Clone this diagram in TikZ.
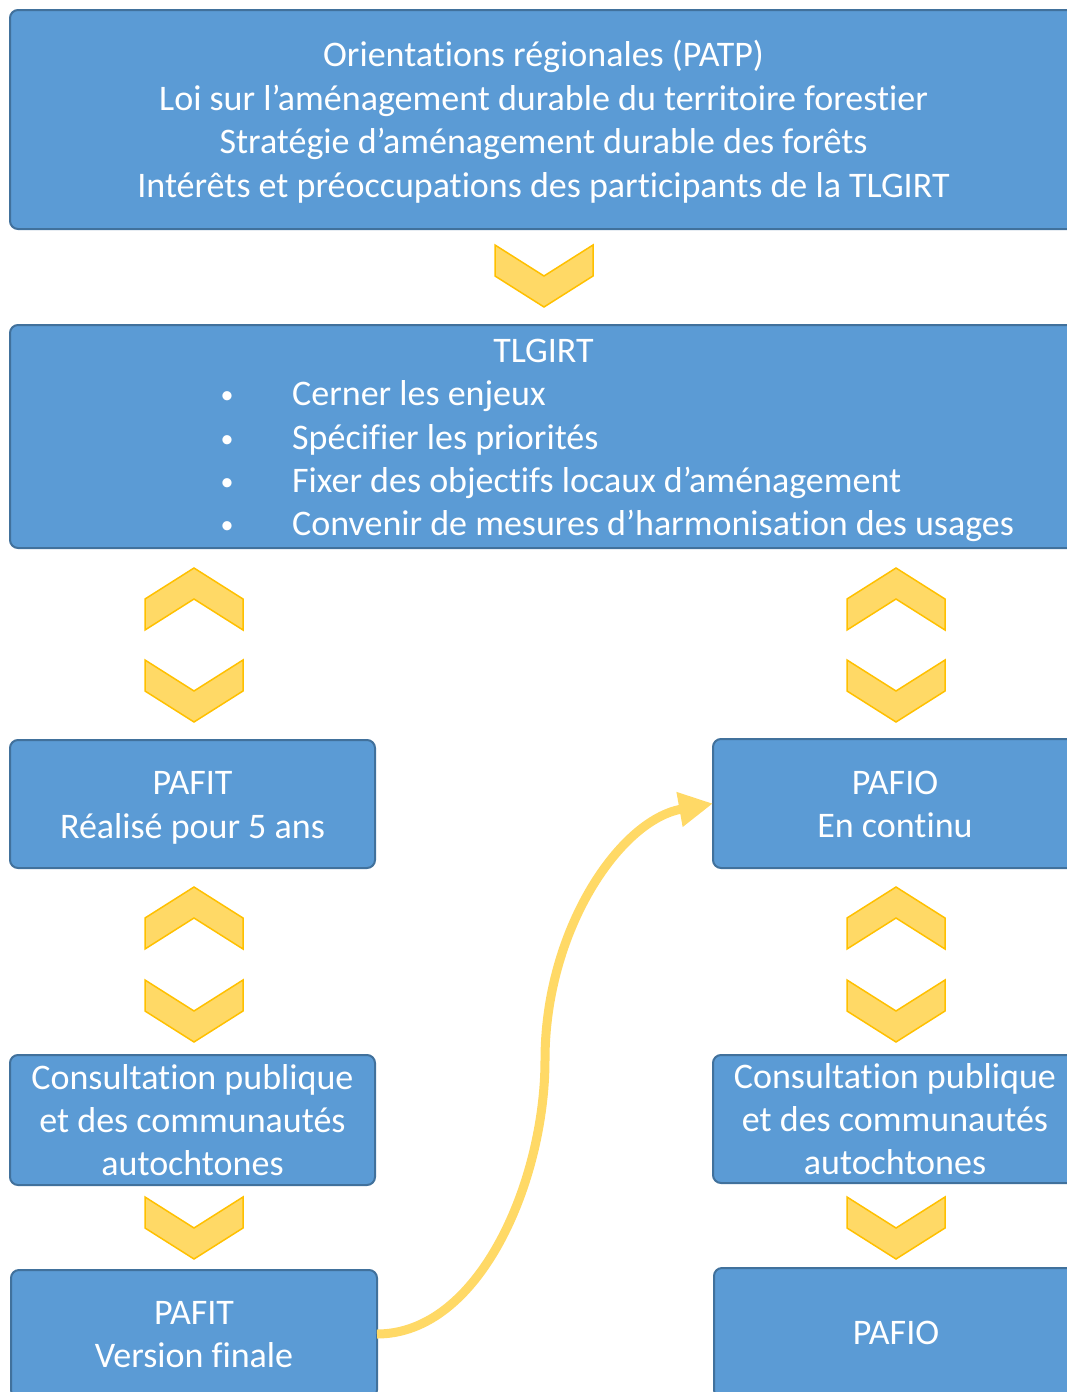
\documentclass[tikz,border=0pt]{standalone}
\usepackage{fontspec}
\setmainfont{Carlito}[Ligatures={NoCommon}]
\usetikzlibrary{arrows.meta}
\definecolor{boxfill}{HTML}{5B9BD5}
\definecolor{boxline}{HTML}{41719C}
\definecolor{chevfill}{HTML}{FFD966}
\definecolor{chevline}{HTML}{FFC000}
\tikzset{
  box/.style={draw=boxline, fill=boxfill, line width=2pt, rounded corners=8pt, inner sep=0pt, outer sep=0pt},
  txt/.style={text=white, inner sep=0pt, font=\fontsize{36}{43.5}\selectfont},
  bul/.style={text=white, inner sep=0pt, font=\fontsize{26}{30}\selectfont},
  chev/.style={draw=chevline, fill=chevfill, line width=1.5pt, line join=miter},
  conn/.style={draw=chevfill, line width=9pt, -{Triangle[length=34pt,width=33pt]}},
  chevdown/.pic={\path[chev] (-49,0) -- (0,31) -- (49,0) -- (49,31) -- (0,62) -- (-49,31) -- cycle;},
  chevup/.pic={\path[chev] (-49,31) -- (0,0) -- (49,31) -- (49,62) -- (0,31) -- (-49,62) -- cycle;}
}
\begin{document}
\begin{tikzpicture}[x=1pt,y=-1pt]
\useasboundingbox (0,0) rectangle (1067,1392);
\clip (0,0) rectangle (1067,1392);
% boxes
\node[box, minimum width=1067pt, minimum height=219pt] (top) at (543.5,119.5) {};
\node[box, minimum width=1067pt, minimum height=223pt] (tl) at (543.5,436.5) {};
\node[box, minimum width=365pt, minimum height=128pt] (pafit) at (192.5,804) {};
\node[box, minimum width=364pt, minimum height=129pt] (pafio) at (895,803.5) {};
\node[box, minimum width=365pt, minimum height=130pt] (consL) at (192.5,1120) {};
\node[box, minimum width=364pt, minimum height=128pt] (consR) at (895,1119) {};
\node[box, minimum width=366pt, minimum height=128pt] (finL) at (194,1334) {};
\node[box, minimum width=364pt, minimum height=130pt] (finR) at (896,1333) {};
% top texts
\node[txt, anchor=base] (t1) at (543.5,66) {Orientations régionales (PATP)};
\node[txt, anchor=base] (t2) at (543.5,110) {Loi sur l’aménagement durable du territoire forestier};
\node[txt, anchor=base] (t3) at (543.5,153) {Stratégie d’aménagement durable des forêts};
\node[txt, anchor=base] (t4) at (543.5,197) {Intérêts et préoccupations des participants de la TLGIRT};
% TLGIRT texts
\node[txt, anchor=base] (g0) at (543.5,362) {TLGIRT};
\node[bul, anchor=base] (b1) at (227,403) {•};
\node[bul, anchor=base] (b2) at (227,447) {•};
\node[bul, anchor=base] (b3) at (227,490) {•};
\node[bul, anchor=base] (b4) at (227,533) {•};
\node[txt, anchor=base west] (g1) at (292,405) {Cerner les enjeux};
\node[txt, anchor=base west] (g2) at (292,449) {Spécifier les priorités};
\node[txt, anchor=base west] (g3) at (292,492) {Fixer des objectifs locaux d’aménagement};
\node[txt, anchor=base west] (g4) at (292,535) {Convenir de mesures d’harmonisation des usages};
% PAFIT / PAFIO
\node[txt, anchor=base] (p1) at (192.5,794) {PAFIT};
\node[txt, anchor=base] (p2) at (192.5,838) {Réalisé pour 5 ans};
\node[txt, anchor=base] (o1) at (895,794) {PAFIO};
\node[txt, anchor=base] (o2) at (895,837) {En continu};
% consultations
\node[txt, anchor=base] (cl1) at (192.5,1089) {Consultation publique};
\node[txt, anchor=base] (cl2) at (192.5,1132) {et des communautés};
\node[txt, anchor=base] (cl3) at (192.5,1175) {autochtones};
\node[txt, anchor=base] (cr1) at (895,1088) {Consultation publique};
\node[txt, anchor=base] (cr2) at (895,1131) {et des communautés};
\node[txt, anchor=base] (cr3) at (895,1174) {autochtones};
% finals
\node[txt, anchor=base] (f1) at (194,1324) {PAFIT};
\node[txt, anchor=base] (f2) at (194,1367) {Version finale};
\node[txt, anchor=base] (f3) at (896,1344) {PAFIO};
% chevrons
\pic at (544,245) {chevdown};
\pic at (194,568) {chevup};
\pic at (194,660) {chevdown};
\pic at (896,568) {chevup};
\pic at (896,660) {chevdown};
\pic at (194,887) {chevup};
\pic at (194,980) {chevdown};
\pic at (896,887) {chevup};
\pic at (896,980) {chevdown};
\pic at (194,1197) {chevdown};
\pic at (896,1197) {chevdown};
% connector
\path[conn] (finL.east) .. controls (480,1334) and (545,1180) .. (545,1060)
  .. controls (545,930) and (620,820) .. (pafio.west);
\end{tikzpicture}
\end{document}
